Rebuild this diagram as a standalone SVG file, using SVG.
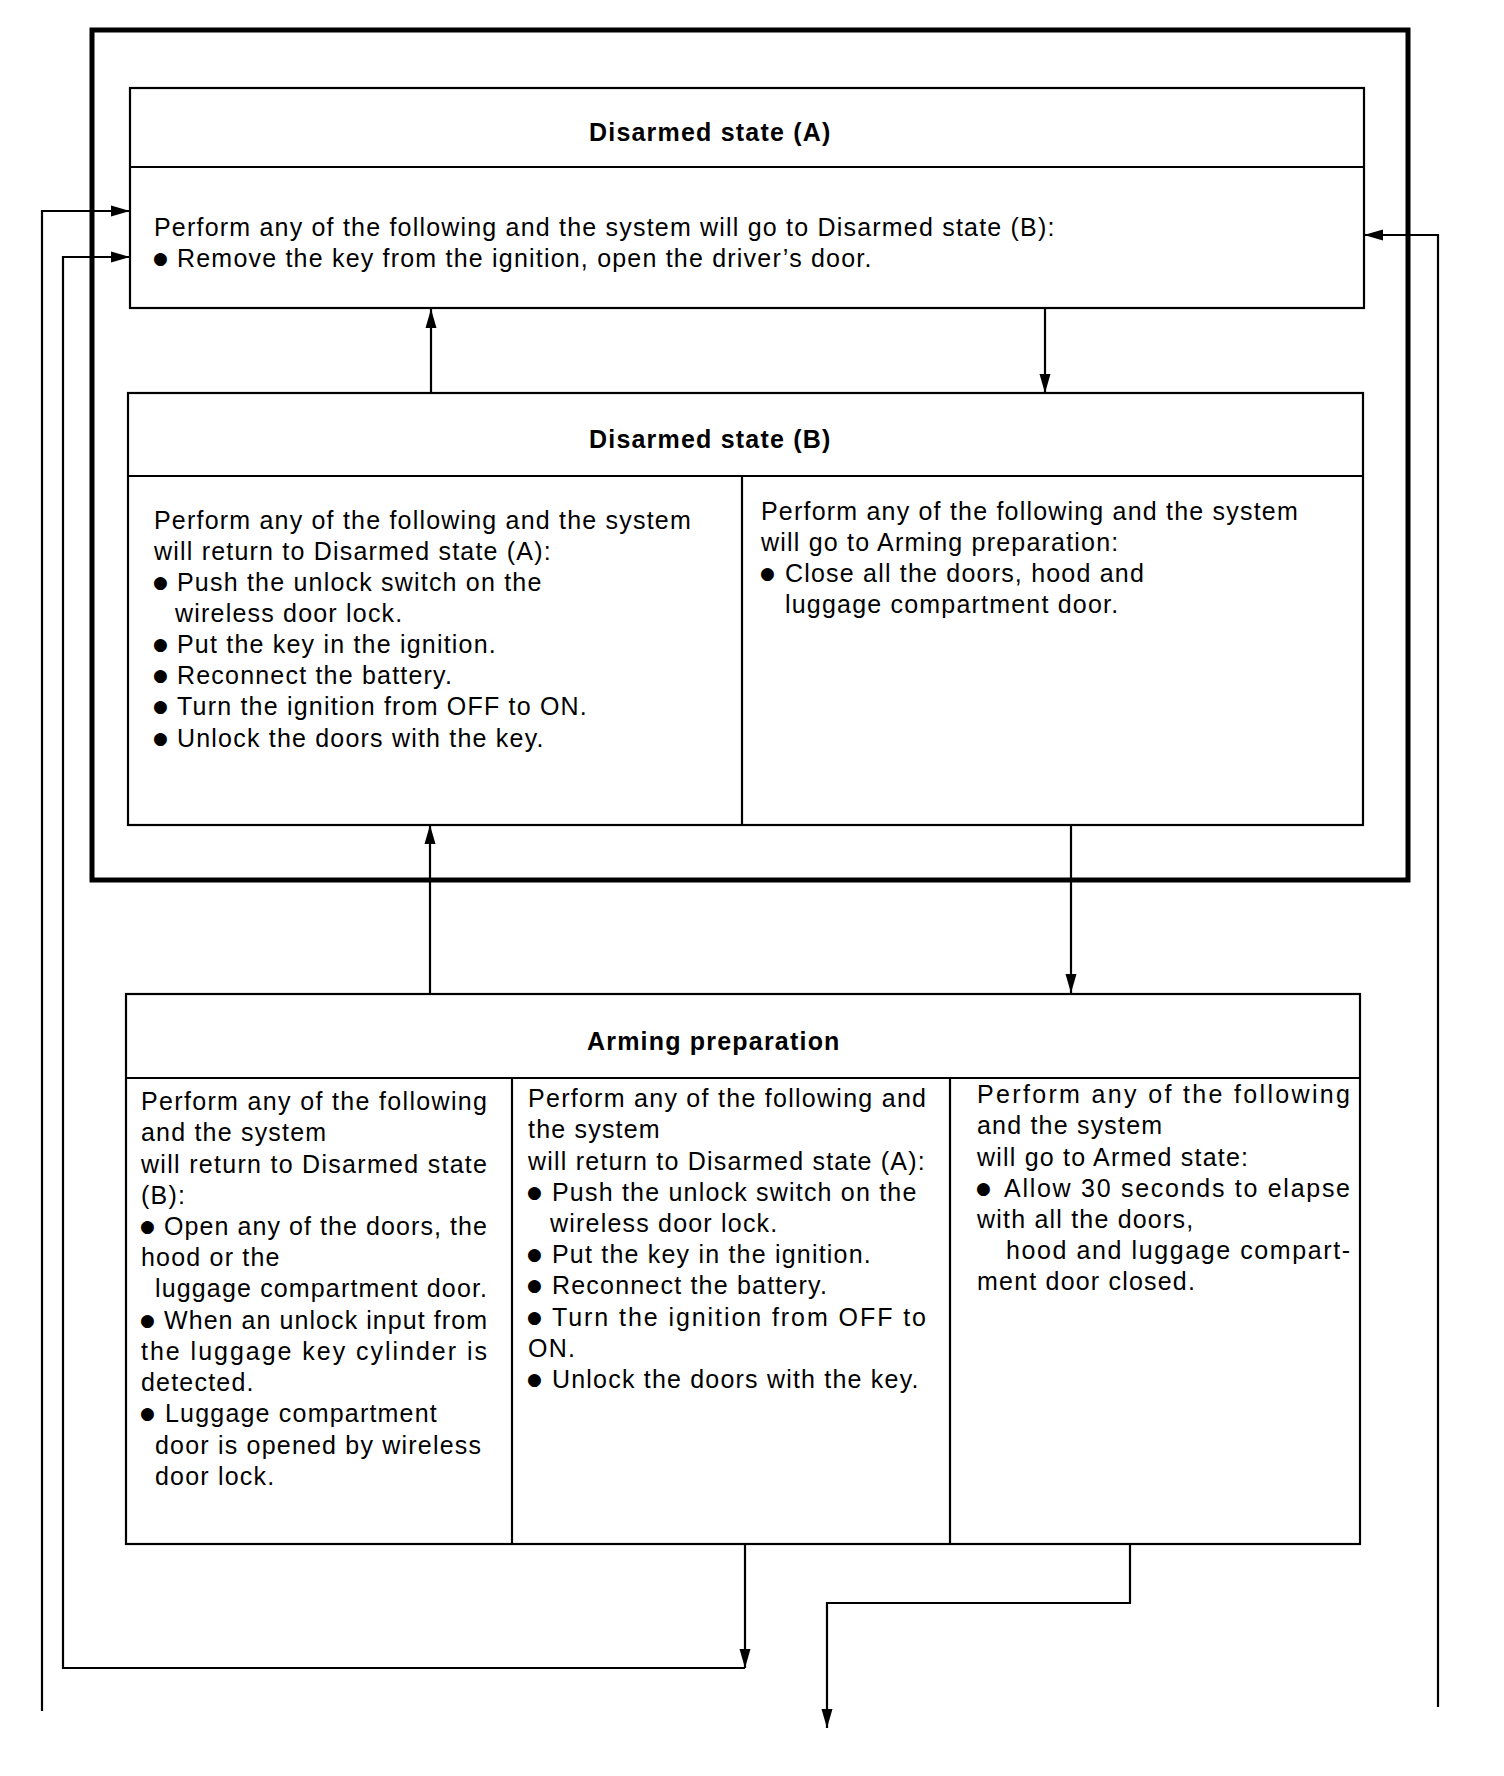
<svg xmlns="http://www.w3.org/2000/svg" width="1504" height="1776" viewBox="0 0 1504 1776">
<style>
.box{fill:none;stroke:#000;stroke-width:2.2}
.frame{fill:none;stroke:#000;stroke-width:5}
.c{fill:none;stroke:#000;stroke-width:2.2}
.t{font-family:"Liberation Sans",Arial,sans-serif;font-size:25px;letter-spacing:1.2px;fill:#000}
.h{font-weight:bold}
.j{letter-spacing:0}
.b{font-family:"DejaVu Sans",sans-serif;font-size:17px;fill:#000}
</style>
<defs>
<marker id="ah" markerWidth="20" markerHeight="12" refX="19" refY="6" orient="auto" markerUnits="userSpaceOnUse">
<path d="M0,0.5 L19,6 L0,11.5 z" fill="#000"/>
</marker>
</defs>
<rect id="frame" x="92" y="30" width="1316" height="850" class="frame"/>
<g id="disarmed-a">
<rect x="130" y="88" width="1234" height="220" class="box"/>
<line x1="130" y1="167" x2="1364" y2="167" class="box"/>
<text class="t h" x="589" y="141">Disarmed state (A)</text>
<text class="t" x="154" y="236">Perform any of the following and the system will go to Disarmed state (B):</text>
<text class="b" x="153" y="264">●</text>
<text class="t" x="177" y="267">Remove the key from the ignition, open the driver’s door.</text>
</g>
<g id="disarmed-b">
<rect x="128" y="393" width="1235" height="432" class="box"/>
<line x1="128" y1="476" x2="1363" y2="476" class="box"/>
<line x1="742" y1="476" x2="742" y2="825" class="box"/>
<text class="t h" x="589" y="448">Disarmed state (B)</text>
<text class="t" x="154" y="529">Perform any of the following and the system</text>
<text class="t" x="154" y="560">will return to Disarmed state (A):</text>
<text class="b" x="153" y="588">●</text>
<text class="t" x="177" y="591">Push the unlock switch on the</text>
<text class="t" x="175" y="622">wireless door lock.</text>
<text class="b" x="153" y="650">●</text>
<text class="t" x="177" y="653">Put the key in the ignition.</text>
<text class="b" x="153" y="681">●</text>
<text class="t" x="177" y="684">Reconnect the battery.</text>
<text class="b" x="153" y="712">●</text>
<text class="t" x="177" y="715">Turn the ignition from OFF to ON.</text>
<text class="b" x="153" y="744">●</text>
<text class="t" x="177" y="747">Unlock the doors with the key.</text>
<text class="t" x="761" y="520">Perform any of the following and the system</text>
<text class="t" x="761" y="551">will go to Arming preparation:</text>
<text class="b" x="760" y="579">●</text>
<text class="t" x="785" y="582">Close all the doors, hood and</text>
<text class="t" x="785" y="613">luggage compartment door.</text>
</g>
<g id="arming-preparation">
<rect x="126" y="994" width="1234" height="550" class="box"/>
<line x1="126" y1="1078" x2="1360" y2="1078" class="box"/>
<line x1="512" y1="1078" x2="512" y2="1544" class="box"/>
<line x1="950" y1="1078" x2="950" y2="1544" class="box"/>
<text class="t h" x="587" y="1050">Arming preparation</text>
<text class="t j" x="141" y="1110" textLength="346" lengthAdjust="spacing">Perform any of the following</text>
<text class="t" x="141" y="1141">and the system</text>
<text class="t j" x="141" y="1173" textLength="346" lengthAdjust="spacing">will return to Disarmed state</text>
<text class="t" x="141" y="1204">(B):</text>
<text class="b" x="140" y="1232">●</text>
<text class="t j" x="164" y="1235" textLength="323" lengthAdjust="spacing">Open any of the doors, the</text>
<text class="t" x="141" y="1266">hood or the</text>
<text class="t j" x="155" y="1297" textLength="332" lengthAdjust="spacing">luggage compartment door.</text>
<text class="b" x="140" y="1326">●</text>
<text class="t j" x="164" y="1329" textLength="323" lengthAdjust="spacing">When an unlock input from</text>
<text class="t j" x="141" y="1360" textLength="346" lengthAdjust="spacing">the luggage key cylinder is</text>
<text class="t" x="141" y="1391">detected.</text>
<text class="b" x="140" y="1419">●</text>
<text class="t" x="165" y="1422">Luggage compartment</text>
<text class="t" x="155" y="1454">door is opened by wireless</text>
<text class="t" x="155" y="1485">door lock.</text>
<text class="t j" x="528" y="1107" textLength="398" lengthAdjust="spacing">Perform any of the following and</text>
<text class="t" x="528" y="1138">the system</text>
<text class="t" x="528" y="1170">will return to Disarmed state (A):</text>
<text class="b" x="527" y="1198">●</text>
<text class="t" x="552" y="1201">Push the unlock switch on the</text>
<text class="t" x="550" y="1232">wireless door lock.</text>
<text class="b" x="527" y="1260">●</text>
<text class="t" x="552" y="1263">Put the key in the ignition.</text>
<text class="b" x="527" y="1291">●</text>
<text class="t" x="552" y="1294">Reconnect the battery.</text>
<text class="b" x="527" y="1323">●</text>
<text class="t j" x="552" y="1326" textLength="374" lengthAdjust="spacing">Turn the ignition from OFF to</text>
<text class="t" x="528" y="1357">ON.</text>
<text class="b" x="527" y="1385">●</text>
<text class="t" x="552" y="1388">Unlock the doors with the key.</text>
<text class="t j" x="977" y="1103" textLength="373" lengthAdjust="spacing">Perform any of the following</text>
<text class="t" x="977" y="1134">and the system</text>
<text class="t" x="977" y="1166">will go to Armed state:</text>
<text class="b" x="976" y="1194">●</text>
<text class="t j" x="1004" y="1197" textLength="346" lengthAdjust="spacing">Allow 30 seconds to elapse</text>
<text class="t" x="977" y="1228">with all the doors,</text>
<text class="t j" x="1006" y="1259" textLength="344" lengthAdjust="spacing">hood and luggage compart-</text>
<text class="t" x="977" y="1290">ment door closed.</text>
</g>
<g id="connectors">
<path class="c" d="M431,393 V309" marker-end="url(#ah)"/>
<path class="c" d="M1045,308 V393" marker-end="url(#ah)"/>
<path class="c" d="M430,994 V825" marker-end="url(#ah)"/>
<path class="c" d="M1071,825 V993" marker-end="url(#ah)"/>
<path class="c" d="M745,1544 V1668" marker-end="url(#ah)"/>
<path class="c" d="M745,1668 H63 V257 H130" marker-end="url(#ah)"/>
<path class="c" d="M42,1711 V211 H130" marker-end="url(#ah)"/>
<path class="c" d="M1130,1544 V1603 H827 V1728" marker-end="url(#ah)"/>
<path class="c" d="M1438,1707 V235 H1364" marker-end="url(#ah)"/>
</g>
</svg>
